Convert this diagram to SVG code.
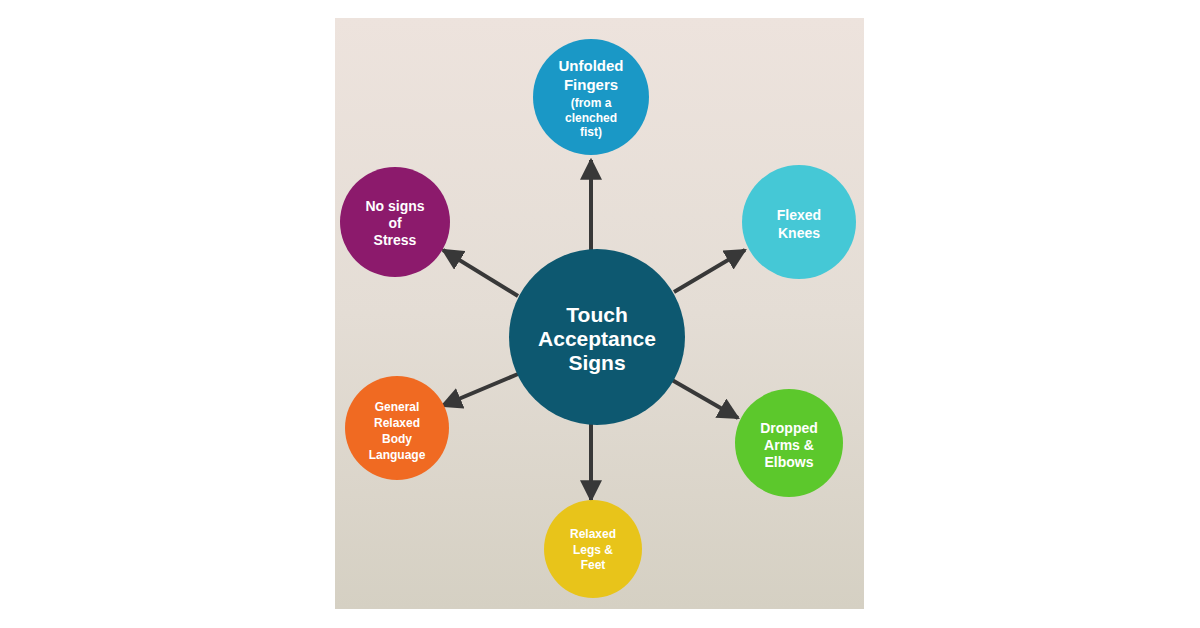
<svg xmlns="http://www.w3.org/2000/svg" width="1200" height="628" viewBox="0 0 1200 628">
<defs>
<linearGradient id="bg" x1="0" y1="0" x2="0" y2="1">
<stop offset="0" stop-color="#ede3dd"/>
<stop offset="0.5" stop-color="#e4ddd5"/>
<stop offset="1" stop-color="#d5d0c3"/>
</linearGradient>
<marker id="ah" viewBox="0 0 10 10" refX="9" refY="5" markerWidth="5.5" markerHeight="5.5" markerUnits="strokeWidth" orient="auto">
<path d="M0,0 L10,5 L0,10 z" fill="#383838"/>
</marker>
</defs>
<style>
.lbl{font-family:"Liberation Sans",Arial,sans-serif;font-weight:bold;fill:#ffffff;text-anchor:middle}
.m{font-size:15px}
.s{font-size:14px}
.xs{font-size:12px}
.big{font-size:21px}
.conn line{stroke:#383838;stroke-width:4}
</style>
<rect width="1200" height="628" fill="#ffffff"/>
<rect x="335" y="18" width="529" height="591" fill="url(#bg)"/>
<g class="conn">
<line x1="591" y1="250" x2="591" y2="160" marker-end="url(#ah)"/>
<line x1="674" y1="292" x2="745" y2="250" marker-end="url(#ah)"/>
<line x1="518" y1="296" x2="443" y2="250" marker-end="url(#ah)"/>
<line x1="518" y1="374" x2="442" y2="406" marker-end="url(#ah)"/>
<line x1="672" y1="380" x2="738" y2="418" marker-end="url(#ah)"/>
<line x1="591" y1="424" x2="591" y2="500" marker-end="url(#ah)"/>
</g>
<g id="center">
<circle cx="597" cy="337" r="88" fill="#0d5870"/>
<text class="lbl big" x="597" y="322">Touch</text>
<text class="lbl big" x="597" y="346">Acceptance</text>
<text class="lbl big" x="597" y="370">Signs</text>
</g>
<g id="unfolded">
<circle cx="591" cy="97" r="58" fill="#1a98c6"/>
<text class="lbl m" x="591" y="71">Unfolded</text>
<text class="lbl m" x="591" y="90">Fingers</text>
<text class="lbl xs" x="591" y="107">(from a</text>
<text class="lbl xs" x="591" y="122">clenched</text>
<text class="lbl xs" x="591" y="136">fist)</text>
</g>
<g id="flexed">
<circle cx="799" cy="222" r="57" fill="#45c8d6"/>
<text class="lbl s" x="799" y="220">Flexed</text>
<text class="lbl s" x="799" y="238">Knees</text>
</g>
<g id="nosigns">
<circle cx="395" cy="222" r="55" fill="#8c1a6c"/>
<text class="lbl s" x="395" y="211">No signs</text>
<text class="lbl s" x="395" y="228">of</text>
<text class="lbl s" x="395" y="245">Stress</text>
</g>
<g id="general">
<circle cx="397" cy="428" r="52" fill="#f06a22"/>
<text class="lbl xs" x="397" y="411">General</text>
<text class="lbl xs" x="397" y="427">Relaxed</text>
<text class="lbl xs" x="397" y="443">Body</text>
<text class="lbl xs" x="397" y="459">Language</text>
</g>
<g id="dropped">
<circle cx="789" cy="443" r="54" fill="#5cc82c"/>
<text class="lbl s" x="789" y="433">Dropped</text>
<text class="lbl s" x="789" y="450">Arms &amp;</text>
<text class="lbl s" x="789" y="467">Elbows</text>
</g>
<g id="relaxed">
<circle cx="593" cy="549" r="49" fill="#e8c41a"/>
<text class="lbl xs" x="593" y="538">Relaxed</text>
<text class="lbl xs" x="593" y="554">Legs &amp;</text>
<text class="lbl xs" x="593" y="569">Feet</text>
</g>
</svg>
